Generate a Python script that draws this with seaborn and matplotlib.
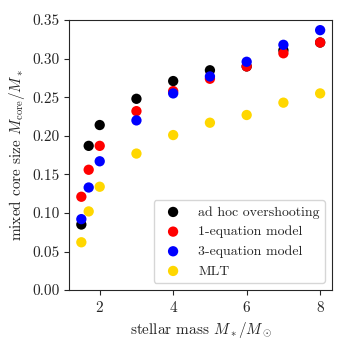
import pandas as pd
import matplotlib
matplotlib.use("Agg")
import matplotlib.pyplot as plt
import seaborn as sns

# stellar masses
mass = [1.5, 1.7, 2, 3, 4, 5, 6, 7, 8]

# mixed core size for each model
adhoc = [0.085, 0.187, 0.214, 0.248, 0.271, 0.285, 0.290, 0.311, 0.321]
one_eq = [0.121, 0.156, 0.187, 0.232, 0.258, 0.274, 0.290, 0.307, 0.321]
three_eq = [0.092, 0.133, 0.167, 0.220, 0.255, 0.277, 0.296, 0.318, 0.337]
mlt = [0.062, 0.102, 0.134, 0.177, 0.201, 0.217, 0.227, 0.243, 0.255]

labels = ['ad hoc overshooting', '1-equation model', '3-equation model', 'MLT']
colors = ['black', 'red', 'blue', '#FFD700']

sns.set_style("ticks")
plt.rcParams['font.family'] = 'serif'
plt.rcParams['font.serif'] = ['cmr10', 'DejaVu Serif']
plt.rcParams['mathtext.fontset'] = 'cm'
plt.rcParams['axes.formatter.use_mathtext'] = True
plt.rcParams['font.size'] = 11

fig, ax = plt.subplots(figsize=(3.47, 3.47), dpi=100)

for ys, lab, col in zip([adhoc, one_eq, three_eq, mlt], labels, colors):
    df = pd.DataFrame({'mass': mass, 'size': ys})
    sns.scatterplot(data=df, x='mass', y='size', color=col, label=lab,
                    s=55, edgecolor='none', ax=ax)

ax.set_ylim(0, 0.35)
ax.set_xticks([2, 4, 6, 8])
ax.set_yticks([0, 0.05, 0.10, 0.15, 0.20, 0.25, 0.30, 0.35])
ax.set_yticklabels([f"{v:.2f}" for v in ax.get_yticks()])
ax.tick_params(labelsize=11)
ax.set_xlabel(r'stellar mass $M_*/M_\odot$', fontsize=11)
ax.set_ylabel(r'mixed core size $M_{\rm core}/M_*$', fontsize=11)
ax.legend(loc='lower right', fontsize=10)

fig.subplots_adjust(left=0.2, right=0.957, top=0.942, bottom=0.164)
plt.savefig('out.png', dpi=100)
